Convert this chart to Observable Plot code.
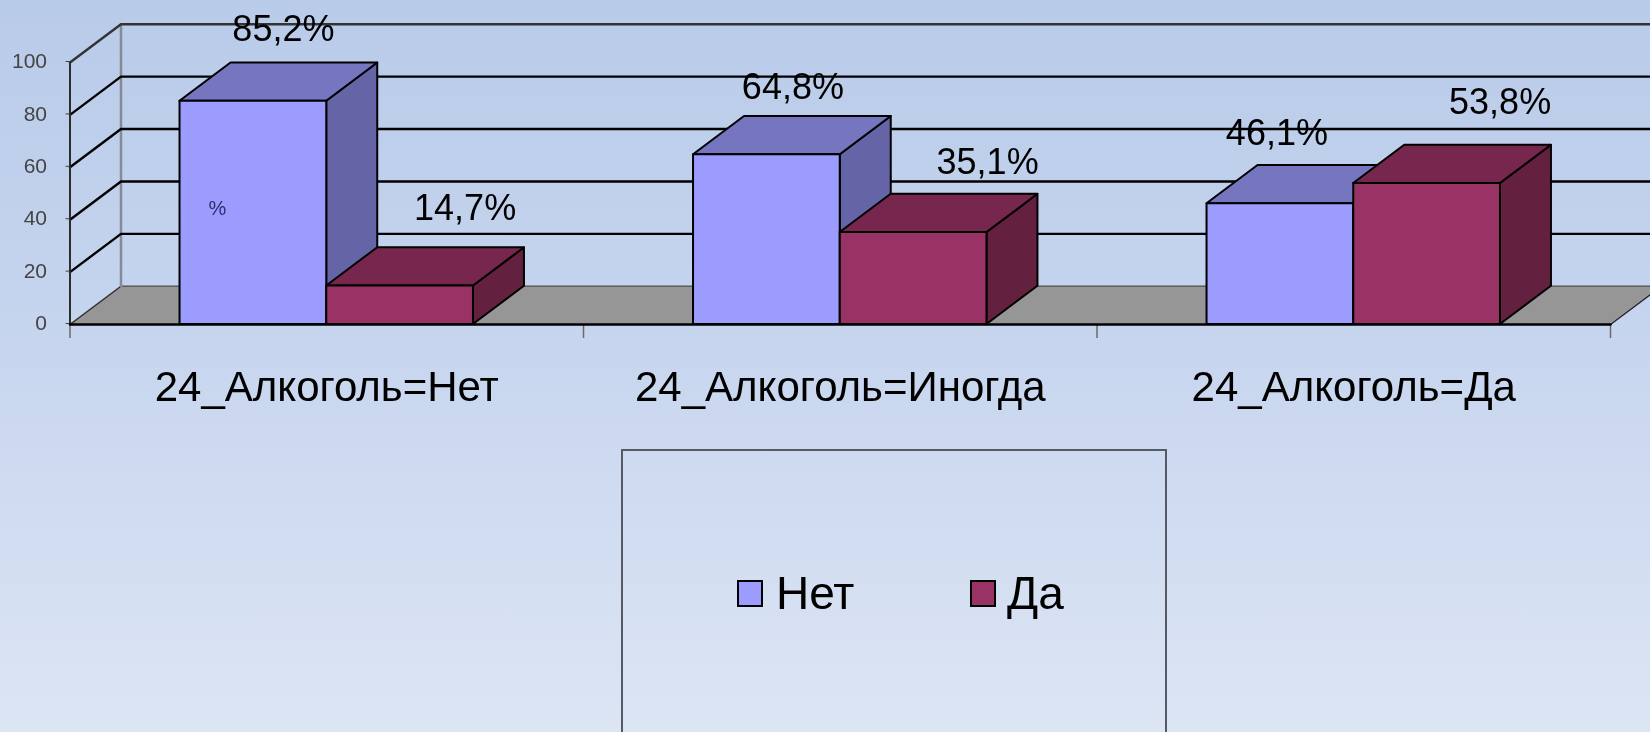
<!DOCTYPE html>
<html lang="ru">
<head>
<meta charset="utf-8">
<script src="https://cdn.jsdelivr.net/npm/d3@7"></script>
<script src="https://cdn.jsdelivr.net/npm/@observablehq/plot@0.6"></script>
<style>
  html, body { margin: 0; padding: 0; width: 1650px; height: 732px; overflow: hidden; }
  body { position: relative; background: linear-gradient(180deg, #b8cbe9 0%, #c8d6ef 50%, #dce5f4 100%); font-family: "Liberation Sans", Arial, sans-serif; }
  #chart svg { display: block; background: transparent; filter: blur(0.7px); }
  #legend { position: absolute; left: 621px; top: 449px; width: 546px; height: 320px; border: 2px solid #555a66; box-sizing: border-box; filter: blur(0.5px); color: #000; }
  .swatch { position: absolute; top: 129px; width: 26px; height: 27px; border: 2px solid #000; box-sizing: border-box; }
  .entry { position: absolute; top: 114px; font-size: 46px; line-height: 56px; }
</style>
</head>
<body>
<div id="chart"></div>
<div id="legend"></div>
<script>
const categories = ["24_Алкоголь=Нет", "24_Алкоголь=Иногда", "24_Алкоголь=Да"];
const seriesNames = ["Нет", "Да"];
const valuesNo = [85.2, 64.8, 46.1];
const valuesYes = [14.7, 35.1, 53.8];
const yTicks = [0, 20, 40, 60, 80, 100];
const xBoundaries = [0, 1, 2, 3];
const faceColors = [
  {front: "#9c9cff", top: "#7676c0", side: "#6464a6"},
  {front: "#993366", top: "#77274d", side: "#63203f"}
];
// hand-placed data labels: pixel shift from the middle of each bar's front top edge
const labelShift = [[30, -72], [65, -78], [26, -67], [74, -70], [-3.5, -70], [73, -81]];

// 3-D projection in scale units
const barW = 1 / 3.5, gap = 1.5 / 3.5, depthX = 0.0993, depthY = 14.6;

const bars = [];
categories.forEach((c, i) => {
  [valuesNo[i], valuesYes[i]].forEach((v, s) => {
    const x0 = i + gap / 2 + s * barW;
    bars.push({x0, x1: x0 + barW, v, s, label: v.toFixed(1).replace(".", ",") + "%", shift: labelShift[bars.length]});
  });
});

const lineOpts = {stroke: "#000", strokeWidth: 2, strokeLinejoin: "round"};

const barMarks = bars.flatMap(b => {
  const col = faceColors[b.s];
  return [
    Plot.areaY([{x: b.x1, y1: 0, y2: b.v}, {x: b.x1 + depthX, y1: depthY, y2: b.v + depthY}],
      {x: "x", y1: "y1", y2: "y2", fill: col.side, ...lineOpts}),
    Plot.areaX([{y: b.v, x1: b.x0, x2: b.x1}, {y: b.v + depthY, x1: b.x0 + depthX, x2: b.x1 + depthX}],
      {y: "y", x1: "x1", x2: "x2", fill: col.top, ...lineOpts}),
    Plot.rect([b], {x1: "x0", x2: "x1", y1: 0, y2: "v", fill: col.front, ...lineOpts})
  ];
});

const labelMarks = bars.map(b =>
  Plot.text([b], {x: d => (d.x0 + d.x1) / 2, y: "v", text: "label", dx: b.shift[0], dy: b.shift[1], fontSize: 36, fill: "#000"})
);

const gridLines = yTicks.filter(v => v > 0).flatMap(v => [
  {k: v, x: 0, y: v}, {k: v, x: depthX, y: v + depthY}, {k: v, x: 3 + depthX, y: v + depthY}
]);

const plot = Plot.plot({
  width: 1650, height: 440,
  marginLeft: 69.5, marginRight: 40, marginTop: 62, marginBottom: 116,
  style: {fontFamily: "'Liberation Sans', Arial, sans-serif", background: "transparent", overflow: "hidden"},
  x: {domain: [0, 3]},
  y: {domain: [0, 100]},
  marks: [
    // floor
    Plot.areaX([{y: 0, x1: 0, x2: 3}, {y: depthY, x1: depthX, x2: 3 + depthX}], {y: "y", x1: "x1", x2: "x2", fill: "#969696"}),
    Plot.line([{x: depthX, y: depthY}, {x: 3 + depthX, y: depthY}], {x: "x", y: "y", stroke: "#5f5f5f", strokeWidth: 1.5}),
    Plot.line([{x: 0, y: 0}, {x: depthX, y: depthY}], {x: "x", y: "y", stroke: "#333", strokeWidth: 1.5}),
    Plot.line([{x: 3, y: 0}, {x: 3 + depthX, y: depthY}], {x: "x", y: "y", stroke: "#222", strokeWidth: 1.5}),
    // back wall upright and grid
    Plot.line([{x: depthX, y: depthY}, {x: depthX, y: 100 + depthY}], {x: "x", y: "y", stroke: "#858b93", strokeWidth: 2.5}),
    Plot.line(gridLines, {x: "x", y: "y", z: "k", stroke: d => d.k === 100 ? "#333" : "#000", strokeWidth: 2.4}),
    // front axes
    Plot.axisX({ticks: xBoundaries, tickFormat: () => "", tickSize: 14, color: "#6a6a6a", strokeWidth: 1.5, label: null}),
    Plot.axisY({ticks: yTicks, tickSize: 4, tickPadding: 19, fontSize: 21, color: "#444", label: null, anchor: "left", dy: -1}),
    Plot.line([{x: 0, y: 0}, {x: 0, y: 100}], {x: "x", y: "y", stroke: "#2c2c2c", strokeWidth: 2}),
    Plot.line([{x: 0, y: 0}, {x: 3, y: 0}], {x: "x", y: "y", stroke: "#000", strokeWidth: 2.5}),
    ...barMarks,
    ...labelMarks,
    Plot.text(["%"], {x: 0.287, y: 44.3, fontSize: 20, fill: "#2e2e6e"}),
    Plot.text(categories, {x: (d, i) => i + 0.5, y: 0, dy: 63, fontSize: 42, fill: "#000"})
  ]
});
document.getElementById("chart").append(plot);

// legend
const legend = document.getElementById("legend");
const swatchLeft = [114, 347];
const textLeft = [153, 384];
seriesNames.forEach((name, i) => {
  const sw = document.createElement("div");
  sw.className = "swatch";
  sw.style.left = swatchLeft[i] + "px";
  sw.style.background = faceColors[i].front;
  const tx = document.createElement("div");
  tx.className = "entry";
  tx.style.left = textLeft[i] + "px";
  tx.textContent = name;
  legend.append(sw, tx);
});
</script>
</body>
</html>
